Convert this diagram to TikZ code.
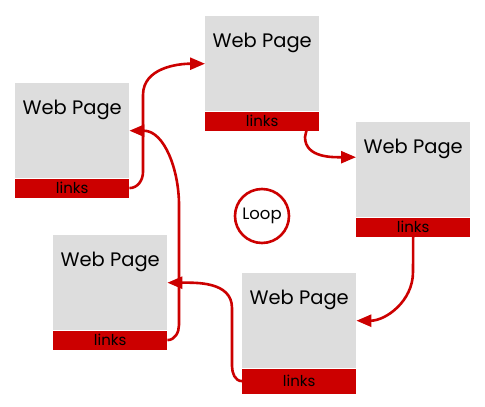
\documentclass[tikz,border=0pt]{standalone}
\usepackage{fontspec}
\setmainfont{Poppins}
\usetikzlibrary{arrows.meta}
\definecolor{pagegray}{HTML}{DDDDDD}
\definecolor{linkred}{HTML}{CC0000}
\tikzset{
  page/.style={fill=pagegray, minimum width=114pt, minimum height=95pt, inner sep=0pt, anchor=north west},
  linkbar/.style={fill=linkred, minimum width=114pt, minimum height=19pt, inner sep=0pt, anchor=north, font=\fontsize{15}{15}\selectfont},
  pagetitle/.style={anchor=base, inner sep=0pt, font=\fontsize{19.5}{19.5}\selectfont},
  conn/.style={draw=linkred, line width=2.6pt, -{Triangle[length=15pt,width=12pt]}},
  loopnode/.style={circle, draw=linkred, line width=2.6pt, minimum size=54pt, inner sep=0pt, font=\fontsize{16.5}{16.5}\selectfont}
}
\begin{document}
\begin{tikzpicture}[x=1pt,y=1pt]
\useasboundingbox (0,0) rectangle (485,-407);
% pages
\node[page] (A) at (15,-83) {};
\node[linkbar] (Al) at (A.south) {links};
\node[pagetitle] (At) at ([yshift=-31pt]A.north) {Web Page};
\node[page] (B) at (205,-16) {};
\node[linkbar] (Bl) at (B.south) {links};
\node[pagetitle] (Bt) at ([yshift=-31pt]B.north) {Web Page};
\node[page] (C) at (356,-122) {};
\node[linkbar] (Cl) at (C.south) {links};
\node[pagetitle] (Ct) at ([yshift=-31pt]C.north) {Web Page};
\node[page] (D) at (242,-273) {};
\node[linkbar, minimum height=25pt] (Dl) at (D.south) {links};
\node[pagetitle] (Dt) at ([yshift=-31pt]D.north) {Web Page};
\node[page] (E) at (53,-235) {};
\node[linkbar] (El) at (E.south) {links};
\node[pagetitle] (Et) at ([yshift=-31pt]E.north) {Web Page};
% loop
\node[loopnode] (L) at (262,-216) {Loop};
% connectors
\draw[conn] (Al.east) to[out=0,in=-90] (143,-172) -- (143,-95) to[out=90,in=180] (B.west);
\draw[conn] ([xshift=-13pt]Bl.south east) -- (305,-137) to[out=-90,in=180] ([yshift=12.5pt]C.west);
\draw[conn] (Cl.south) -- (413,-272) to[out=-90,in=0] (D.east);
\draw[conn] (Dl.west) to[out=180,in=-90] (232,-366) -- (232,-308) to[out=90,in=0] (E.east);
\draw[conn] (El.east) to[out=0,in=-90] (179,-325) -- (179,-205) to[out=90,in=0] (A.east);
\end{tikzpicture}
\end{document}
